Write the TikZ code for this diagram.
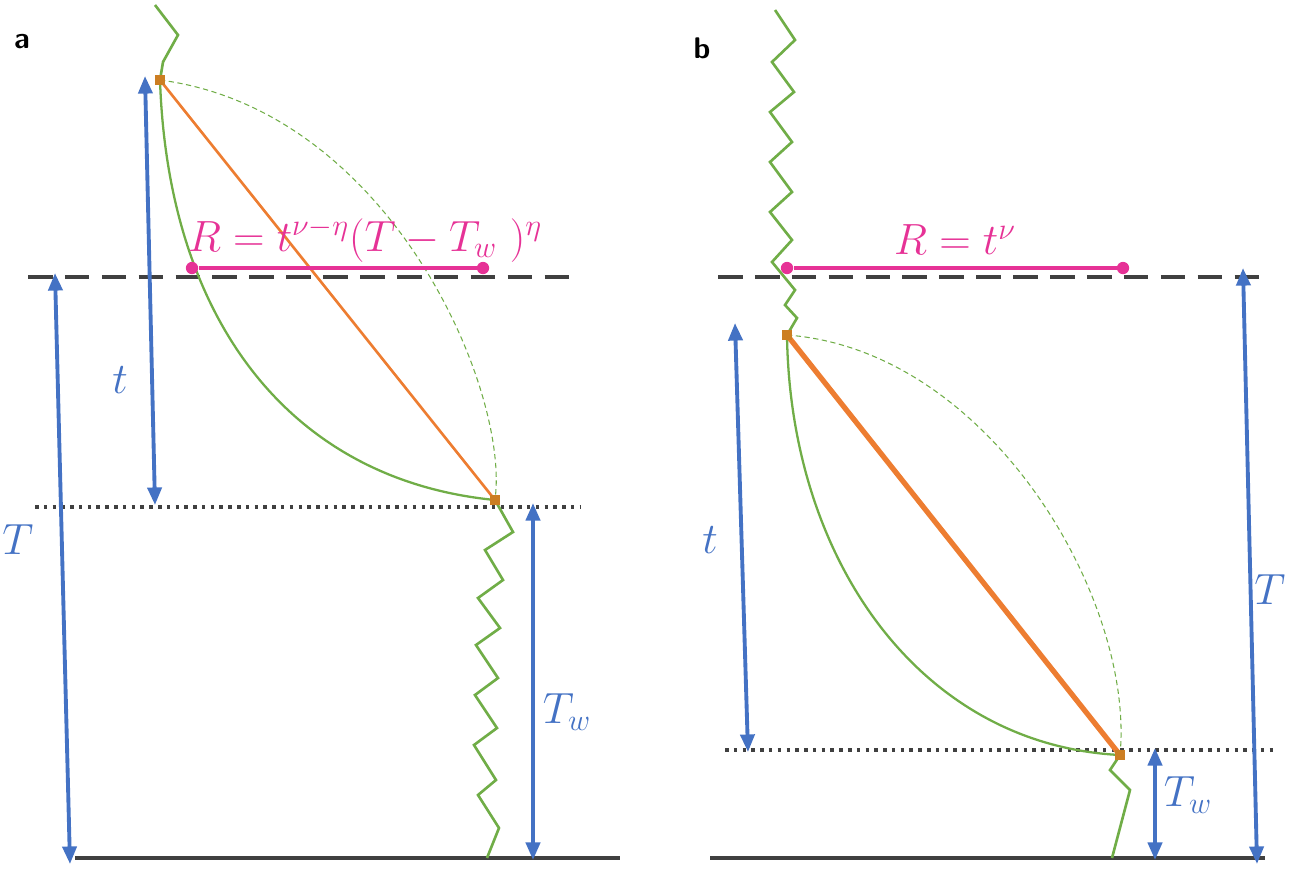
\documentclass[tikz,border=0pt]{standalone}
\usetikzlibrary{arrows.meta}
\definecolor{gr}{RGB}{112,173,71}
\definecolor{bl}{RGB}{68,114,196}
\definecolor{pk}{RGB}{230,50,150}
\definecolor{or}{RGB}{237,125,49}
\definecolor{dg}{RGB}{64,64,64}
\begin{document}
\begin{tikzpicture}[x=0.02cm,y=-0.02cm,
  zz/.style={gr,line width=1.5pt},
  curv/.style={gr,line width=1.3pt},
  dcurv/.style={gr,line width=0.6pt,dash pattern=on 3pt off 2pt},
  arr/.style={bl,line width=2.2pt,{Triangle[length=10pt,width=8pt]}-{Triangle[length=10pt,width=8pt]}},
  lbl/.style={bl,font=\fontsize{26}{30}\selectfont},
  plbl/.style={pk,font=\fontsize{24}{28}\selectfont},
  dashl/.style={dg,line width=2.6pt,dash pattern=on 14pt off 7pt},
  dotl/.style={dg,line width=2.2pt,dash pattern=on 2pt off 3pt},
  base/.style={dg,line width=2.4pt},
  sq/.style={fill=or!70!olive,draw=none,minimum size=6pt,inner sep=0pt},
  dot/.style={circle,fill=pk,minimum size=7pt,inner sep=0pt}]
\useasboundingbox (0,0) rectangle (1295,873);
\node[font=\sffamily\bfseries\fontsize{17}{20}\selectfont] (la) at (22,42) {a};
\node[font=\sffamily\bfseries\fontsize{17}{20}\selectfont] (lb) at (702,48) {b};
% panel a
\draw[dashl] (28,277) -- (575,277);
\draw[dotl] (35,507) -- (580,507);
\draw[base] (75,858) -- (620,858);
\coordinate (a1) at (160,80); \coordinate (a2) at (495,500);
\draw[zz] (155,5) -- (178,35) -- (163,62) -- (a1);
\draw[curv] (a1) .. controls (168,320) and (290,480) .. (a2);
\draw[dcurv] (a1) .. controls (390,110) and (510,390) .. (a2);
\draw[or,line width=1.5pt] (a1) -- (a2);
\draw[zz] (a2) -- (513,532) -- (485,550) -- (503,580) -- (478,598) -- (500,628) -- (476,645) -- (498,678) -- (475,695) -- (497,728) -- (474,745) -- (496,780) -- (478,795) -- (499,828) -- (487,858);
\node[sq] (sa1) at (a1) {}; \node[sq] (sa2) at (a2) {};
\node[dot] (pa1) at (192,268) {}; \node[dot] (pa2) at (483,268) {};
\draw[pk,line width=2.5pt] (pa1) -- (pa2);
\node[plbl] (ra) at (365,240) {$R=t^{\nu-\eta}(T-T_w\ )^{\eta}$};
\coordinate (ta1) at (145,76); \coordinate (ta2) at (155,505);
\draw[arr] (ta1) -- (ta2);
\node[lbl] (tla) at (120,380) {$t$};
\coordinate (Ta1) at (55,273); \coordinate (Ta2) at (70,864);
\draw[arr] (Ta1) -- (Ta2);
\node[lbl] (Tla) at (18,540) {$T$};
\coordinate (wa1) at (533,503); \coordinate (wa2) at (533,860);
\draw[arr] (wa1) -- (wa2);
\node[lbl] (wla) at (567,712) {$T_w$};
% panel b
\draw[dashl] (718,277) -- (1265,277);
\draw[dotl] (725,750) -- (1275,750);
\draw[base] (710,858) -- (1265,858);
\coordinate (b1) at (787,335); \coordinate (b2) at (1120,755);
\draw[zz] (775,10) -- (795,40) -- (772,62) -- (794,92) -- (770,112) -- (792,142) -- (770,162) -- (792,192) -- (770,212) -- (792,240) -- (772,262) -- (795,290) -- (785,305) -- (797,318) -- (b1);
\draw[curv] (b1) .. controls (790,560) and (920,745) .. (b2);
\draw[dcurv] (b1) .. controls (990,350) and (1135,600) .. (b2);
\draw[or,line width=3pt] (b1) -- (b2);
\draw[zz] (b2) -- (1110,770) -- (1130,790) -- (1112,858);
\node[sq] (sb1) at (b1) {}; \node[sq] (sb2) at (b2) {};
\node[dot] (pb1) at (787,268) {}; \node[dot] (pb2) at (1123,268) {};
\draw[pk,line width=2.5pt] (pb1) -- (pb2);
\node[plbl] (rb) at (955,240) {$R=t^{\nu}$};
\coordinate (tb1) at (735,323); \coordinate (tb2) at (748,752);
\draw[arr] (tb1) -- (tb2);
\node[lbl] (tlb) at (710,540) {$t$};
\coordinate (Tb1) at (1243,268); \coordinate (Tb2) at (1257,864);
\draw[arr] (Tb1) -- (Tb2);
\node[lbl] (Tlb) at (1270,590) {$T$};
\coordinate (wb1) at (1155,748); \coordinate (wb2) at (1155,860);
\draw[arr] (wb1) -- (wb2);
\node[lbl] (wlb) at (1188,795) {$T_w$};
\end{tikzpicture}
\end{document}
